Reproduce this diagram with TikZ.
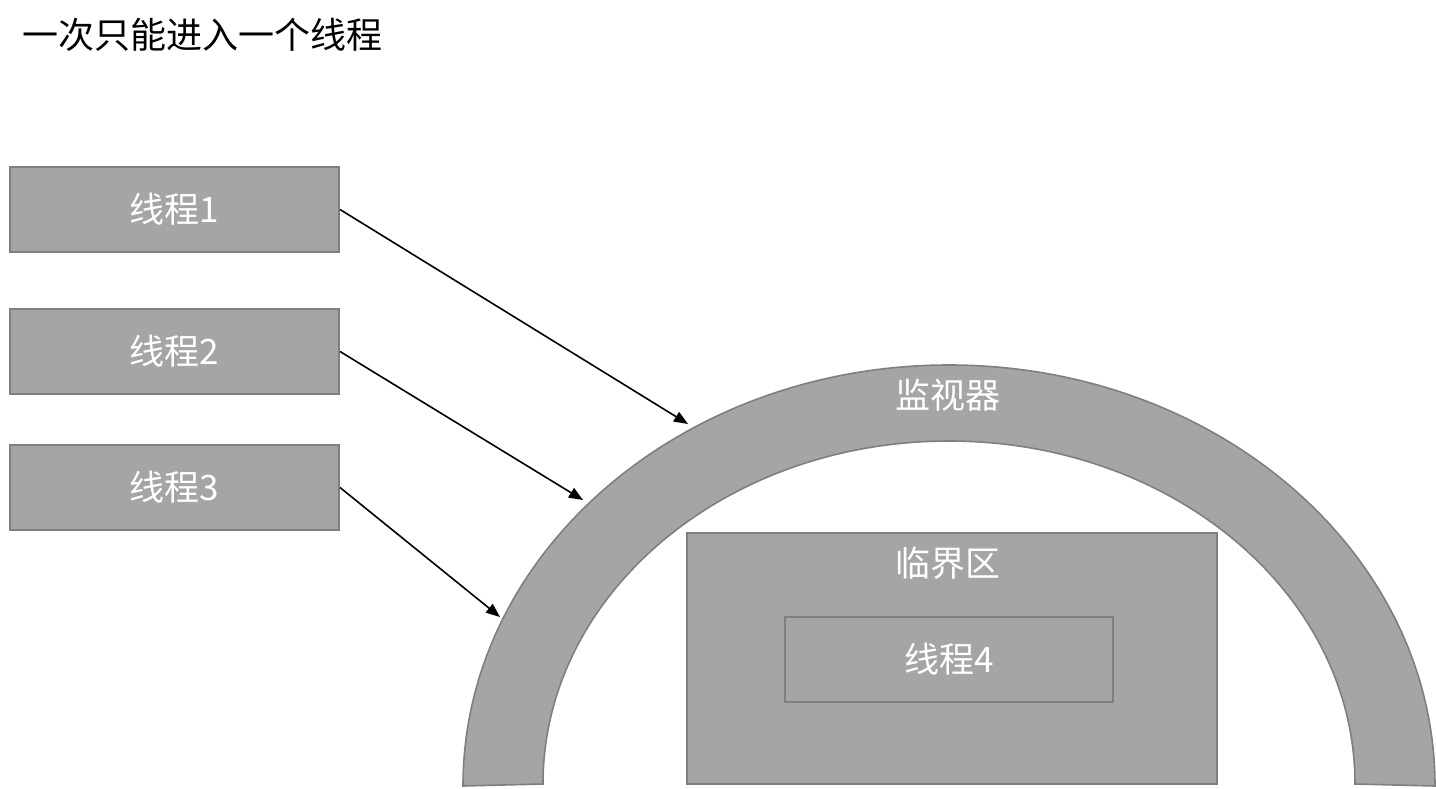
\documentclass[tikz,border=0pt]{standalone}
\usepackage{fontspec}
\setmainfont{Noto Sans CJK SC}
\usetikzlibrary{arrows.meta}
\definecolor{boxfill}{HTML}{A5A5A5}
\definecolor{boxline}{HTML}{7F7F7F}
\begin{document}
\begin{tikzpicture}[x=1pt,y=-1pt,
  thr/.style={draw=boxline,fill=boxfill,line width=2pt,minimum width=329pt,minimum height=85pt,inner sep=0pt,text=white,font=\fontsize{35pt}{40pt}\selectfont},
  lbl/.style={text=white,inner sep=0pt,font=\fontsize{35pt}{40pt}\selectfont},
  arr/.style={line width=1.6pt,-{Triangle[length=14pt,width=11pt]}}]
\useasboundingbox (0,0) rectangle (1436,788);
% title
\node[anchor=center,inner sep=0pt,font=\fontsize{36pt}{40pt}\selectfont] (title) at (203,35) {一次只能进入一个线程};
% thread boxes
\node[thr] (t1) at (174.5,209.5) {线程1};
\node[thr] (t2) at (174.5,351.5) {线程2};
\node[thr] (t3) at (174.5,487.5) {线程3};
% monitor arch
\path[draw=boxline,fill=boxfill,line width=1.6pt]
  (463,786) arc[start angle=180,end angle=360,x radius=486,y radius=421]
  -- (1355,784) arc[start angle=360,end angle=180,x radius=406,y radius=343] -- cycle;
\node[lbl] (mon) at (948,395) {监视器};
% critical section
\node[draw=boxline,fill=boxfill,line width=2pt,minimum width=530pt,minimum height=251pt,inner sep=0pt] (cs) at (952,658.5) {};
\node[lbl] (csl) at (948,563) {临界区};
\node[thr,minimum width=328pt] (t4) at (949,659.5) {线程4};
% arrows
\coordinate (e1) at (688,424);
\coordinate (e2) at (583,500);
\coordinate (e3) at (500,617);
\draw[arr] (t1.east) -- (e1);
\draw[arr] (t2.east) -- (e2);
\draw[arr] (t3.east) -- (e3);
\end{tikzpicture}
\end{document}
